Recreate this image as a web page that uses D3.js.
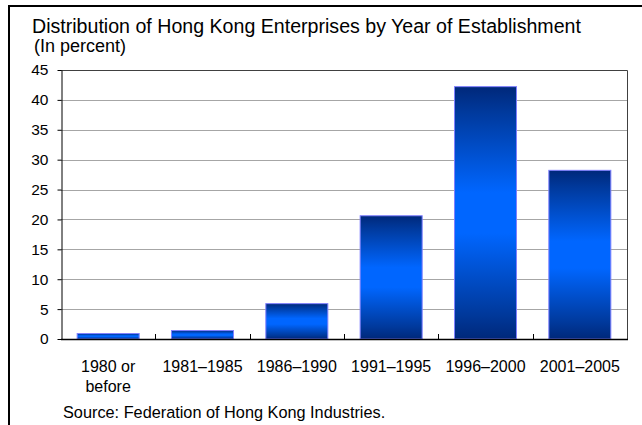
<!DOCTYPE html>
<html>
<head>
<meta charset="utf-8">
<script src="https://cdn.jsdelivr.net/npm/d3@7"></script>
<style>
  html, body { margin: 0; padding: 0; background: #fff; }
  svg { display: block; }
  text { font-family: "Liberation Sans", Arial, sans-serif; fill: #000; }
</style>
</head>
<body>
<svg id="chart" width="642" height="425"></svg>
<script>
const categories = ["1980 or\nbefore", "1981–1985", "1986–1990", "1991–1995", "1996–2000", "2001–2005"];
const values = [1.0, 1.5, 6.0, 20.7, 42.3, 28.3];
const yTicks = [0, 5, 10, 15, 20, 25, 30, 35, 40, 45];
const titleText = "Distribution of Hong Kong Enterprises by Year of Establishment";
const subtitleText = "(In percent)";
const sourceText = "Source: Federation of Hong Kong Industries.";

const svg = d3.select("#chart");
const W = 642, H = 425;
const plot = { left: 61, right: 627, top: 70, bottom: 339 };

// outer frame (top and left edges visible)
svg.append("line").attr("x1", 9).attr("x2", W + 2).attr("y1", 6).attr("y2", 6)
  .attr("stroke", "#000").attr("stroke-width", 2);
svg.append("line").attr("x1", 9).attr("x2", 9).attr("y1", 5).attr("y2", H + 2)
  .attr("stroke", "#000").attr("stroke-width", 2);

// gradient
const defs = svg.append("defs");
const grad = defs.append("linearGradient").attr("id", "barGrad")
  .attr("x1", 0).attr("y1", 0).attr("x2", 0).attr("y2", 1);
[[0, "#00287a"], [0.1, "#00399c"], [0.42, "#0066ff"], [0.58, "#0066ff"], [0.9, "#00399c"], [1, "#00287a"]]
  .forEach(([o, c]) => grad.append("stop").attr("offset", o).attr("stop-color", c));

const x = d3.scaleBand().domain(categories).range([plot.left, plot.right])
  .paddingInner(0.332).paddingOuter(0.166);
const y = d3.scaleLinear().domain([0, 45]).range([plot.bottom, plot.top]);

// gridlines
svg.append("g").selectAll("line").data(yTicks.filter(t => t > 0 && t < 45)).join("line")
  .attr("x1", plot.left).attr("x2", plot.right)
  .attr("y1", d => Math.round(y(d)) + 0.5).attr("y2", d => Math.round(y(d)) + 0.5)
  .attr("stroke", "#a6a6a6").attr("stroke-width", 1);

// plot frame top and right
svg.append("path")
  .attr("d", `M${plot.left},${plot.top + 0.5}H${plot.right + 0.5}V${plot.bottom}`)
  .attr("fill", "none").attr("stroke", "#404040").attr("stroke-width", 1);

// bars
svg.append("g").selectAll("rect").data(values).join("rect")
  .attr("x", (d, i) => x(categories[i]) + 0.5)
  .attr("y", d => y(d) + 0.5)
  .attr("width", x.bandwidth() - 1)
  .attr("height", d => y(0) - y(d) - 0.5)
  .attr("fill", "url(#barGrad)")
  .attr("stroke", "#8080ff").attr("stroke-width", 1);

// y axis
const yAxis = svg.append("g").attr("transform", `translate(${plot.left + 0.5},0)`)
  .call(d3.axisLeft(y).tickValues(yTicks).tickSize(4).tickPadding(9).tickSizeOuter(0));
yAxis.select(".domain").attr("stroke", "#000");
yAxis.selectAll(".tick line").attr("stroke", "#000");
yAxis.selectAll(".tick text").attr("font-size", "15.5px")
  .attr("font-family", '"Liberation Sans", Arial, sans-serif').attr("fill", "#000");

// x axis line
svg.append("line").attr("x1", plot.left).attr("x2", plot.right + 1)
  .attr("y1", plot.bottom + 0.5).attr("y2", plot.bottom + 0.5)
  .attr("stroke", "#000").attr("stroke-width", 1.5);

// x boundary ticks (pointing up)
const step = x.step();
const boundaries = categories.slice(1).map(c => x(c) - step * x.paddingInner() / 2);
svg.append("g").selectAll("line").data(boundaries).join("line")
  .attr("x1", d => Math.round(d) + 0.5).attr("x2", d => Math.round(d) + 0.5)
  .attr("y1", plot.bottom).attr("y2", plot.bottom - 5)
  .attr("stroke", "#000").attr("stroke-width", 1);

// x labels
const xl = svg.append("g").selectAll("text").data(categories).join("text")
  .attr("x", d => x(d) + x.bandwidth() / 2)
  .attr("y", 372)
  .attr("text-anchor", "middle")
  .attr("font-size", "16px");
xl.each(function(d) {
  const lines = d.split("\n");
  d3.select(this).selectAll("tspan").data(lines).join("tspan")
    .attr("x", x(d) + x.bandwidth() / 2)
    .attr("dy", (l, i) => i === 0 ? 0 : 19.5)
    .text(l => l);
});

// titles
svg.append("text").attr("x", 32).attr("y", 33).attr("font-size", "19.6px").text(titleText);
svg.append("text").attr("x", 34).attr("y", 52).attr("font-size", "18px").text(subtitleText);
svg.append("text").attr("x", 63).attr("y", 418).attr("font-size", "16.3px").text(sourceText);
</script>
</body>
</html>
